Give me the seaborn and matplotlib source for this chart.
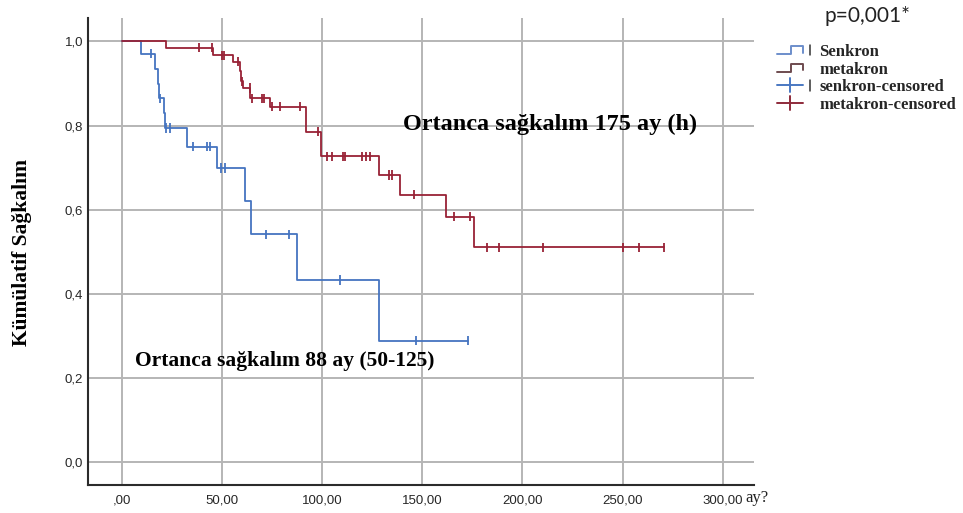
import numpy as np
import pandas as pd
import matplotlib
matplotlib.use("Agg")
import matplotlib.pyplot as plt
import seaborn as sns
from matplotlib.lines import Line2D
from matplotlib.legend_handler import HandlerBase

# ---------------- data ----------------
groups = ["Senkron", "metakron"]

senkron_times = [0, 9.5, 16.6, 18.3, 18.9, 21.1, 21.6, 32.4, 47.4, 61.6, 64.6, 87.7, 128.2]
senkron_surv = [1.0, 0.971, 0.935, 0.900, 0.865, 0.830, 0.794, 0.750, 0.699, 0.620, 0.542, 0.433, 0.289]
senkron_censor = [14.5, 19.1, 22.4, 24.1, 35.8, 42.4, 44.1, 49.7, 51.4, 72.1, 83.7, 109.0, 147.0, 172.6]

metakron_times = [0, 22.1, 45.8, 55.7, 59.0, 59.8, 60.7, 64.3, 74.1, 91.8, 99.4, 128.5, 138.7, 161.8, 175.6]
metakron_surv = [1.0, 0.985, 0.967, 0.952, 0.929, 0.905, 0.889, 0.865, 0.845, 0.786, 0.727, 0.683,
                 0.636, 0.584, 0.511]
metakron_censor = [38.8, 45.0, 50.0, 51.1, 58.2, 59.9, 64.1, 64.9, 69.9, 71.1, 74.9, 79.1, 89.1, 98.2,
                   102.4, 104.9, 110.7, 111.5, 119.9, 122.0, 124.0, 133.2, 134.9, 146.0, 166.0, 174.0,
                   182.3, 188.1, 210.1, 250.0, 258.0, 270.5]

x_ticks = [0, 50, 100, 150, 200, 250, 300]
x_tick_labels = [",00", "50,00", "100,00", "150,00", "200,00", "250,00", "300,00"]
y_ticks = [0.0, 0.2, 0.4, 0.6, 0.8, 1.0]
y_tick_labels = ["0,0", "0,2", "0,4", "0,6", "0,8", "1,0"]

legend_labels = ["Senkron", "metakron", "senkron-censored", "metakron-censored"]

# ---------------- build tables ----------------
line_rows, cens_rows = [], []
for name, times, surv, cens in [("Senkron", senkron_times, senkron_surv, senkron_censor),
                                ("metakron", metakron_times, metakron_surv, metakron_censor)]:
    times = np.asarray(times, float)
    surv = np.asarray(surv, float)
    end = max(times[-1], max(cens))
    for t, s in zip(list(times) + [end], list(surv) + [surv[-1]]):
        line_rows.append((name, t, s))
    idx = np.searchsorted(times, np.asarray(cens), side="right") - 1
    for t, s in zip(cens, surv[idx]):
        cens_rows.append((name, t, s))
df_line = pd.DataFrame(line_rows, columns=["group", "t", "S"])
df_cens = pd.DataFrame(cens_rows, columns=["group", "t", "S"])

palette = {"Senkron": "#4574c0", "metakron": "#982236"}

# ---------------- figure ----------------
sns.set_theme(style="white")
plt.rcParams["font.family"] = ["Liberation Sans", "DejaVu Sans"]

W, H = 963, 513
fig = plt.figure(figsize=(W / 100, H / 100), dpi=100)
L, R, B, T = 88.3, 754.0, 485.0, 18.3
ax = fig.add_axes([L / W, 1 - B / H, (R - L) / W, (B - T) / H])

sns.lineplot(data=df_line, x="t", y="S", hue="group", hue_order=groups, palette=palette,
             drawstyle="steps-post", estimator=None, sort=True, linewidth=1.3,
             legend=False, ax=ax, zorder=3)
sns.scatterplot(data=df_cens, x="t", y="S", hue="group", hue_order=groups, palette=palette,
                marker="|", s=45, linewidth=1.3, legend=False, ax=ax, zorder=4)

ax.set_xlim(-16.6, 315.5)
ax.set_ylim(-0.054, 1.055)
ax.set_xticks(x_ticks)
ax.set_xticklabels(x_tick_labels)
ax.set_yticks(y_ticks)
ax.set_yticklabels(y_tick_labels)
ax.grid(True, color="#b5b5b5", linewidth=1.4)
ax.set_axisbelow(True)
for s in ["top", "right"]:
    ax.spines[s].set_visible(False)
for s in ["left", "bottom"]:
    ax.spines[s].set_color("#2b2b2b")
    ax.spines[s].set_linewidth(1.5)
ax.tick_params(axis="both", length=0, labelsize=9.5, labelcolor="#262626")
ax.tick_params(axis="x", pad=6.5)
ax.tick_params(axis="y", pad=3.6)

ax.set_xlabel("")
ax.set_ylabel("Kümülatif Sağkalım", fontfamily="Liberation Serif", fontweight="bold",
              fontsize=15.5, color="black", va="center")
ax.yaxis.set_label_coords((22 - L) / (R - L), (B - 253) / (B - T))

serif = dict(fontfamily="Liberation Serif", fontweight="bold", color="black")
ax.text(140.5, 0.802, "Ortanca sağkalım 175 ay (h)", fontsize=17.5, va="center", ha="left", **serif)
ax.text(6.6, 0.2416, "Ortanca sağkalım 88 ay (50-125)", fontsize=15.5, va="center", ha="left", **serif)

fig.text(745 / W, 1 - 498 / H, "ay?", fontfamily="Liberation Serif", fontsize=12,
         va="center", ha="left", color="#222222")
fig.text(824 / W, 1 - 16 / H, "p=0,001*", fontfamily="Lato", fontsize=15,
         va="center", ha="left", color="#222222")


# ---------------- legend ----------------
class KMHandler(HandlerBase):
    def __init__(self, kind, tick):
        super().__init__()
        self.kind = kind
        self.tick = tick

    def create_artists(self, legend, orig_handle, xdescent, ydescent, width, height, fontsize, trans):
        c = orig_handle.get_color()
        x0, y0 = -xdescent, -ydescent
        w = width * 0.80
        arts = []
        if self.kind == "step":
            xs = [x0, x0 + 0.55 * w, x0 + 0.55 * w, x0 + w, x0 + w]
            ys = [y0 + 0.15 * height, y0 + 0.15 * height, y0 + 0.85 * height, y0 + 0.85 * height,
                  y0 + 0.3 * height]
            arts.append(Line2D(xs, ys, color=c, lw=1.4, transform=trans))
        else:
            ym = y0 + 0.5 * height
            arts.append(Line2D([x0, x0 + w], [ym, ym], color=c, lw=1.4, transform=trans))
            xm = x0 + 0.5 * w
            arts.append(Line2D([xm, xm], [y0 - 0.1 * height, y0 + 1.1 * height], color=c, lw=1.4,
                               transform=trans))
        if self.tick:
            xt = x0 + width
            arts.append(Line2D([xt, xt], [y0 + 0.05 * height, y0 + 0.95 * height], color="#333333",
                               lw=1.1, transform=trans))
        return arts


h1 = Line2D([], [], color="#6d8ecb")
h2 = Line2D([], [], color="#6e4b4f")
h3 = Line2D([], [], color="#4a78c2")
h4 = Line2D([], [], color="#8e2a3a")
hmap = {h1: KMHandler("step", True), h2: KMHandler("step", False),
        h3: KMHandler("cross", True), h4: KMHandler("cross", False)}
leg = fig.legend([h1, h2, h3, h4], legend_labels, handler_map=hmap,
                 loc="upper left", bbox_to_anchor=(777 / W, 1 - 44 / H), frameon=False,
                 borderpad=0, borderaxespad=0, handlelength=1.95, handletextpad=0.6,
                 labelspacing=0.1, prop=dict(family="Liberation Serif", weight="bold", size=12))

fig.savefig("out.png", dpi=100)
